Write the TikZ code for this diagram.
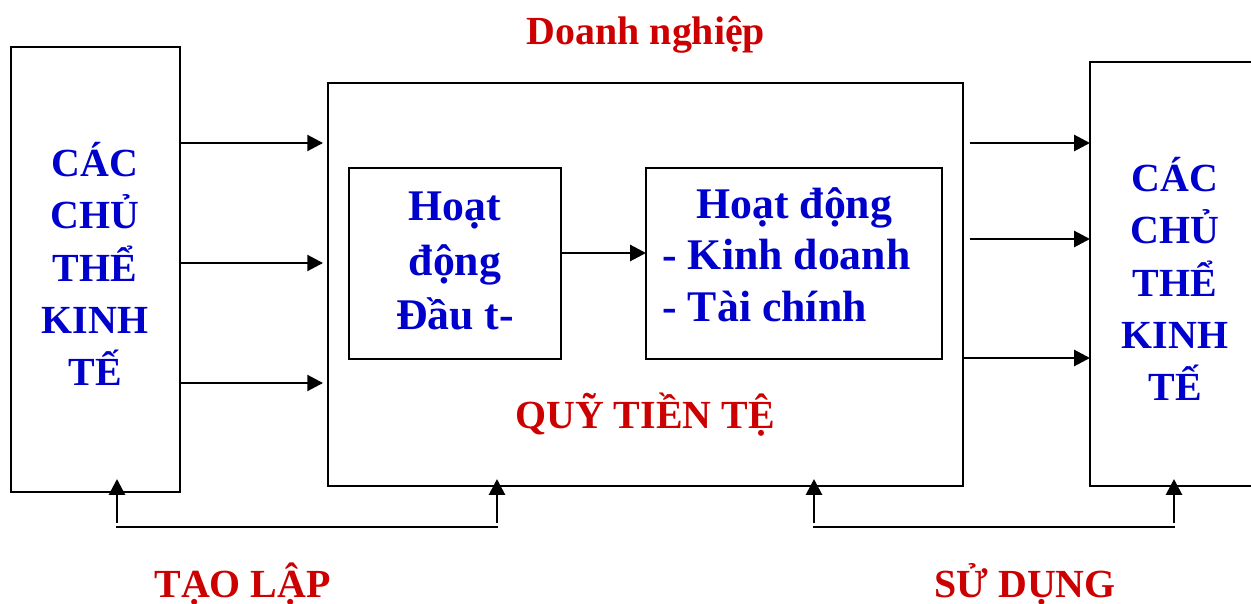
\documentclass[tikz,border=0pt]{standalone}
\usepackage{fontspec}
\setmainfont{Liberation Serif}
\usetikzlibrary{arrows.meta}
\definecolor{txtblue}{RGB}{0,0,204}
\definecolor{txtred}{RGB}{204,0,0}

\begin{document}
\begin{tikzpicture}[x=0.02cm, y=-0.02cm,
    box/.style={draw, line width=1.6pt, inner sep=0pt, outer sep=0pt},
    arr/.style={line width=1.6pt, -{Triangle[length=9pt, width=9pt]}},
    sidetxt/.style={text=txtblue, align=center, inner sep=0pt, font=\fontsize{22.7}{29.8}\selectfont\bfseries},
    redtxt/.style={text=txtred, inner sep=0pt, font=\fontsize{22.7}{27}\selectfont\bfseries}]
    \useasboundingbox (0,0) rectangle (1251,604);
    \clip (0,0) rectangle (1251,604);

    \node[box, minimum width=3.38cm, minimum height=8.9cm] (left) at (95.5,269.5) {};
    \node[box, minimum width=12.7cm, minimum height=8.06cm] (fund) at (645.5,284.5) {};
    \node[box, minimum width=4.24cm, minimum height=3.82cm] (invest) at (455,263.5) {};
    \node[box, minimum width=5.92cm, minimum height=3.82cm] (business) at (794,263.5) {};
    \node[box, minimum width=3.4cm, minimum height=8.48cm] (right) at (1175,274) {};

    \node[sidetxt] (lefttxt) at (95,264) {CÁC\\CHỦ\\THỂ\\KINH\\TẾ};
    \node[sidetxt] (righttxt) at (1175,279) {CÁC\\CHỦ\\THỂ\\KINH\\TẾ};
    \node[sidetxt, font=\fontsize{24.9}{31.2}\selectfont\bfseries] (investtxt) at (455,261) {Hoạt\\động\\Đầu t-};
    \node[sidetxt, align=left, font=\fontsize{24.9}{29.2}\selectfont\bfseries] (businesstxt) at (786.5,254.5)
        {\hspace*{0.68cm}Hoạt động\\- Kinh doanh\\- Tài chính};

    \node[redtxt, anchor=base] (company) at (646,45) {Doanh nghiệp};
    \node[redtxt, anchor=base] (fundtxt) at (645,429) {QUỸ TIỀN TỆ};
    \node[redtxt, anchor=base] (create) at (242.5,597) {TẠO LẬP};
    \node[redtxt, anchor=base] (use) at (1025,597) {SỬ DỤNG};

    % flows into and out of the fund
    \draw[arr, shorten >=0.1cm] (left.east |- 0,143) -- (fund.west |- 0,143);
    \draw[arr, shorten >=0.1cm] (left.east |- 0,263) -- (fund.west |- 0,263);
    \draw[arr, shorten >=0.1cm] (left.east |- 0,383) -- (fund.west |- 0,383);
    \draw[arr] (invest.east |- 0,253) -- (business.west |- 0,253);
    \draw[arr, shorten <=0.14cm] (fund.east |- 0,143) -- (right.west |- 0,143);
    \draw[arr, shorten <=0.14cm] (fund.east |- 0,239) -- (right.west |- 0,239);
    \draw[arr] (fund.east |- 0,358) -- (right.west |- 0,358);

    % brackets below
    \coordinate (c1) at (117,523);
    \coordinate (c2) at (497,523);
    \coordinate (c3) at (814,523);
    \coordinate (c4) at (1174,523);
    \draw[arr] (c1) -- (117,479);
    \draw[arr] (c2) -- (497,479);
    \draw[arr] (c3) -- (814,479);
    \draw[arr] (c4) -- (1174,479);
    \draw[line width=1.6pt] (116,527) -- (498,527);
    \draw[line width=1.6pt] (813,527) -- (1175,527);
\end{tikzpicture}
\end{document}
